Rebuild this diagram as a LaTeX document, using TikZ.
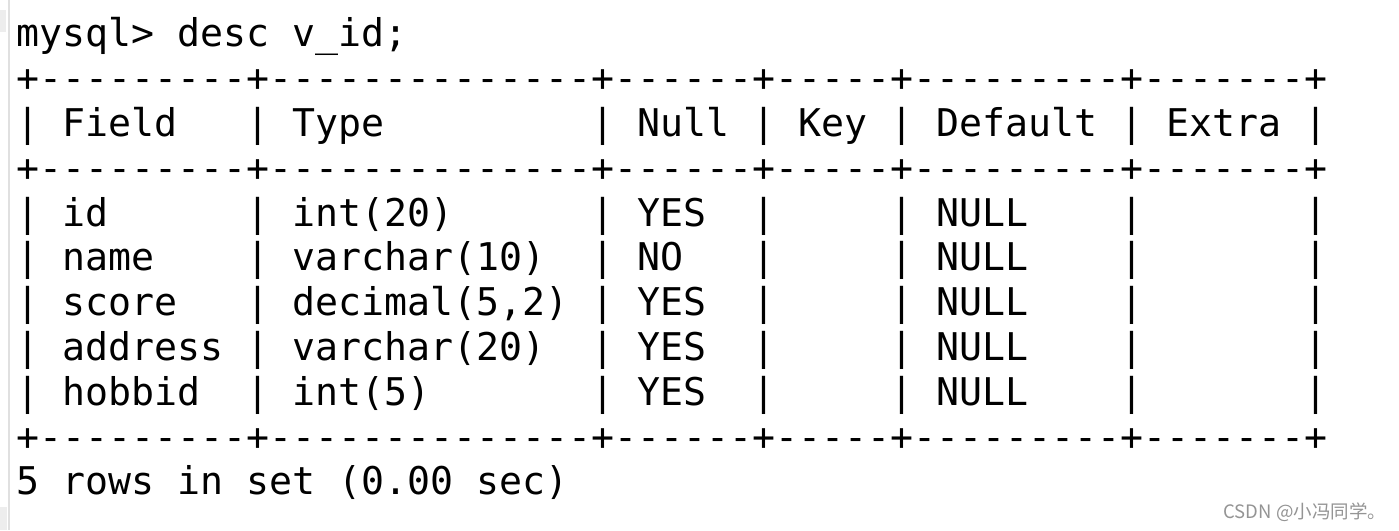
\documentclass[tikz,border=0pt]{standalone}
\usepackage{fontspec}
\setmonofont{DejaVu Sans Mono}
\newfontfamily\cjk{Noto Sans CJK SC}
\tikzset{
  term/.style={anchor=base west, inner sep=0pt, outer sep=0pt, text=black,
    font=\fontsize{38.2pt}{44.8pt}\selectfont\ttfamily\frenchspacing},
  wmark/.style={anchor=base east, inner sep=0pt, outer sep=0pt, text=black!42,
    font=\cjk\fontsize{18.5pt}{20pt}\selectfont},
  edgeline/.style={line width=1.2pt, draw=black!12},
  patch/.style={fill=black!7}
}
\begin{document}
\begin{tikzpicture}[x=1pt,y=-1pt]
\useasboundingbox[fill=white] (0,0) rectangle (1399,530);
\fill[patch] (0,10) rectangle (6,32);
\fill[patch] (0,507) rectangle (7,530);
\draw[edgeline] (9,0) -- (9,530);
\def\xo{16.5}
\node[term] (l1)  at (\xo,46.8)  {mysql>~desc~v\_id;};
\node[term] (l2)  at (\xo,91.6)  {+---------+--------------+------+-----+---------+-------+};
\node[term] (l3)  at (\xo,136.4) {|~Field~~~|~Type~~~~~~~~~|~Null~|~Key~|~Default~|~Extra~|};
\node[term] (l4)  at (\xo,181.2) {+---------+--------------+------+-----+---------+-------+};
\node[term] (l5)  at (\xo,226.0) {|~id~~~~~~|~int(20)~~~~~~|~YES~~|~~~~~|~NULL~~~~|~~~~~~~|};
\node[term] (l6)  at (\xo,270.8) {|~name~~~~|~varchar(10)~~|~NO~~~|~~~~~|~NULL~~~~|~~~~~~~|};
\node[term] (l7)  at (\xo,315.6) {|~score~~~|~decimal(5,2)~|~YES~~|~~~~~|~NULL~~~~|~~~~~~~|};
\node[term] (l8)  at (\xo,360.4) {|~address~|~varchar(20)~~|~YES~~|~~~~~|~NULL~~~~|~~~~~~~|};
\node[term] (l9)  at (\xo,405.2) {|~hobbid~~|~int(5)~~~~~~~|~YES~~|~~~~~|~NULL~~~~|~~~~~~~|};
\node[term] (l10) at (\xo,450.0) {+---------+--------------+------+-----+---------+-------+};
\node[term] (l11) at (\xo,494.8) {5~rows~in~set~(0.00~sec)};
\node[wmark] (wm) at (1386,518) {CSDN @小冯同学。};
\end{tikzpicture}
\end{document}
